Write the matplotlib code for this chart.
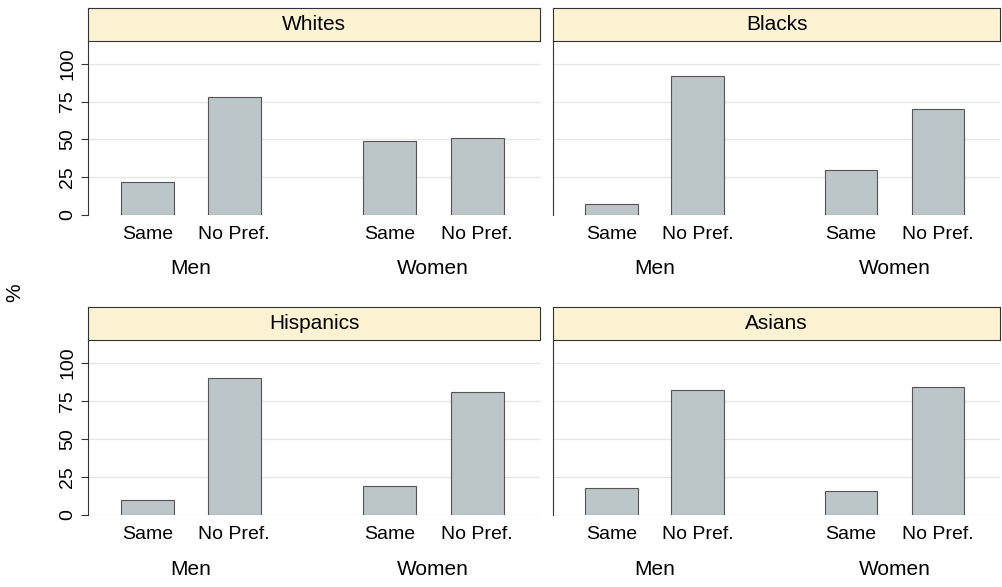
import matplotlib
matplotlib.use("Agg")
import matplotlib.pyplot as plt

panels = ["Whites", "Blacks", "Hispanics", "Asians"]
bar_labels = ["Same", "No Pref.", "Same", "No Pref."]
groups = ["Men", "Women"]
values = {
    "Whites": [22, 78, 49, 51],
    "Blacks": [7, 92, 30, 70],
    "Hispanics": [10, 90, 19, 81],
    "Asians": [18, 82, 16, 84],
}
yticks = [0, 25, 50, 75, 100]

plt.rcParams['font.family'] = ['Liberation Sans', 'DejaVu Sans']
fig = plt.figure(figsize=(10.02, 5.87), dpi=100)
W, H = 1002, 587
pos = [1, 2, 3.78, 4.79]
boxes = [(88, 540, 8, 41, 215), (553, 1000, 8, 41, 215),
         (88, 540, 307, 340, 515), (553, 1000, 307, 340, 515)]
for i, (name, (l, r, st, pt, pb)) in enumerate(zip(panels, boxes)):
    ax = fig.add_axes([l / W, 1 - pb / H, (r - l) / W, (pb - pt) / H])
    ax.bar(pos, values[name], width=0.61, color="#bcc5c8", edgecolor="#555555", linewidth=0.8, zorder=3)
    ax.set_xlim(0.32, 5.51)
    ax.set_ylim(0, 115)
    ax.set_yticks(yticks)
    ax.grid(axis="y", color="#e6e6e6", linewidth=1, zorder=0)
    for s in ["top", "right", "bottom"]:
        ax.spines[s].set_visible(False)
    ax.spines["left"].set_color("#333333")
    ax.set_xticks(pos)
    ax.set_xticklabels(bar_labels, fontsize=14)
    ax.tick_params(axis="x", length=0, pad=8)
    if i % 2 == 0:
        ax.set_yticklabels([str(v) for v in yticks], rotation=90, va="center", fontsize=14)
        ax.tick_params(axis="y", length=5, color="#333333")
    else:
        ax.set_yticklabels([])
        ax.tick_params(axis="y", length=0)
    for gx, g in zip([(pos[0] + pos[1]) / 2, (pos[2] + pos[3]) / 2], groups):
        ax.text(gx, -0.31, g, transform=ax.get_xaxis_transform(), ha="center", va="center", fontsize=15)
    sax = fig.add_axes([l / W, 1 - pt / H, (r - l) / W, (pt - st) / H])
    sax.set_xticks([]); sax.set_yticks([])
    sax.set_facecolor("#fdf3d2")
    for s in sax.spines.values():
        s.set_color("#333333"); s.set_linewidth(0.8)
    sax.text(0.5, 0.5, name, ha="center", va="center", fontsize=15, transform=sax.transAxes)

fig.text(15 / W, 1 - 293 / H, "%", rotation=90, ha="center", va="center", fontsize=15)
fig.savefig("out.png", dpi=100)
